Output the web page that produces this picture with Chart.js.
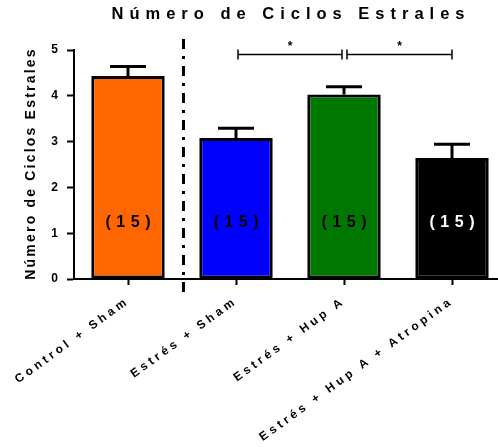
<!DOCTYPE html>
<html>
<head>
<meta charset="utf-8">
<script src="https://cdn.jsdelivr.net/npm/chart.js@4.4.1/dist/chart.umd.min.js"></script>
<style>
  html, body { margin: 0; padding: 0; background: #fff; overflow: hidden; }
</style>
</head>
<body>
<canvas id="myChart" width="506" height="447"></canvas>
<script>
var groups = ['Control + Sham', 'Estrés + Sham', 'Estrés + Hup A', 'Estrés + Hup A + Atropina'];
var means = [4.43, 3.08, 4.03, 2.64];
var sems = [0.21, 0.21, 0.17, 0.30];
var nLabels = ['(15)', '(15)', '(15)', '(15)'];
var barColors = ['#ff6600', '#0000ff', '#007700', '#000000'];
var nLabelColors = ['#000000', '#000000', '#000000', '#ffffff'];
var yTicks = [0, 1, 2, 3, 4, 5];
// significance brackets: [from group, to group, mark]
var brackets = [[1, 2, '*'], [2, 3, '*']];

var chartTitle = 'Número de Ciclos Estrales';
var yTitle = 'Número de Ciclos Estrales';
var FONT = '"Liberation Sans", Arial, sans-serif';

var extras = {
  id: 'extras',
  beforeUpdate: function(chart) { chart.ctx.letterSpacing = '3.5px'; },
  beforeDraw: function(chart) { chart.ctx.letterSpacing = '3.5px'; },
  afterDatasetsDraw: function(chart) {
    var ctx = chart.ctx, x = chart.scales.x, y = chart.scales.y;
    ctx.save();
    ctx.strokeStyle = '#000';

    // upper error bars (SEM)
    ctx.lineWidth = 3;
    means.forEach(function(m, i) {
      var cx = x.getPixelForValue(i);
      var top = y.getPixelForValue(m + sems[i]);
      ctx.beginPath();
      ctx.moveTo(cx, y.getPixelForValue(m));
      ctx.lineTo(cx, top);
      ctx.moveTo(cx - 18, top);
      ctx.lineTo(cx + 18, top);
      ctx.stroke();
    });

    // n per group inside the bars
    ctx.font = 'bold 16px ' + FONT;
    ctx.letterSpacing = '5.5px';
    ctx.textAlign = 'center';
    ctx.textBaseline = 'middle';
    nLabels.forEach(function(t, i) {
      ctx.fillStyle = nLabelColors[i];
      ctx.fillText(t, x.getPixelForValue(i) + 2.75, y.getPixelForValue(1.23));
    });

    // dash-dot separator between control and stress groups
    var sx = (x.getPixelForValue(0) + x.getPixelForValue(1)) / 2 + 1.5;
    ctx.lineWidth = 3;
    ctx.setLineDash([10, 7, 3, 7]);
    ctx.beginPath();
    ctx.moveTo(sx, y.getPixelForValue(5.24));
    ctx.lineTo(sx, y.bottom + 18);
    ctx.stroke();
    ctx.setLineDash([]);

    // significance brackets
    ctx.lineWidth = 1.5;
    var by = y.getPixelForValue(4.9);
    ctx.font = 'bold 12px ' + FONT;
    ctx.letterSpacing = '0px';
    ctx.fillStyle = '#000';
    brackets.forEach(function(b, k) {
      var x1 = x.getPixelForValue(b[0]) + (k === 0 ? 2 : 3);
      var x2 = x.getPixelForValue(b[1]) - (k === 0 ? 2 : 0);
      ctx.beginPath();
      ctx.moveTo(x1, by); ctx.lineTo(x2, by);
      ctx.moveTo(x1, by - 5); ctx.lineTo(x1, by + 5);
      ctx.moveTo(x2, by - 5); ctx.lineTo(x2, by + 5);
      ctx.stroke();
      ctx.fillText(b[2], (x1 + x2) / 2, y.getPixelForValue(5.07));
    });
    ctx.restore();
  },
  afterDraw: function(chart) {
    var ctx = chart.ctx, area = chart.chartArea;
    ctx.save();
    ctx.fillStyle = '#000';
    ctx.textAlign = 'center';
    ctx.textBaseline = 'middle';

    // chart title
    ctx.font = 'bold 16.5px ' + FONT;
    ctx.letterSpacing = '6px';
    ctx.fillText(chartTitle, (area.left + area.right) / 2 + 1, 14);

    // y axis title
    ctx.font = 'bold 14px ' + FONT;
    ctx.letterSpacing = '2.2px';
    ctx.translate(31, (area.top + area.bottom) / 2);
    ctx.rotate(-Math.PI / 2);
    ctx.fillText(yTitle, 1, 0);
    ctx.restore();
  }
};

var ctx = document.getElementById('myChart').getContext('2d');
var myChart = new Chart(ctx, {
  type: 'bar',
  data: {
    labels: groups,
    datasets: [{
      data: means,
      backgroundColor: barColors,
      borderColor: '#000',
      borderWidth: 3,
      borderSkipped: false,
      barPercentage: 0.68,
      categoryPercentage: 1
    }]
  },
  options: {
    responsive: false,
    animation: false,
    layout: { padding: { top: 50, left: 0, right: 0, bottom: 0 } },
    plugins: {
      legend: { display: false },
      tooltip: { enabled: false },
      title: { display: false }
    },
    scales: {
      x: {
        grid: { display: true, drawOnChartArea: false, offset: false, tickLength: 6, tickWidth: 2, tickColor: '#000' },
        border: { color: '#000', width: 2 },
        ticks: { minRotation: 36, maxRotation: 36, padding: 9, color: '#000', font: { family: FONT, size: 12, weight: 'bold' } },
        afterFit: function(s) {
          s.height = 168;
          // rotated labels fit on their own, keep the plot edges fixed
          s.paddingLeft = 0;
          s.paddingRight = 0;
        }
      },
      y: {
        min: 0,
        max: 5,
        afterBuildTicks: function(s) { s.ticks = yTicks.map(function(v) { return { value: v }; }); },
        grid: { drawOnChartArea: false, tickLength: 7, tickWidth: 2, tickColor: '#000' },
        border: { color: '#000', width: 2 },
        ticks: { padding: 5.5, color: '#000', font: { family: FONT, size: 12, weight: 'bold' } },
        afterFit: function(s) { s.width = 74; }
      }
    }
  },
  plugins: [extras]
});
</script>
</body>
</html>
